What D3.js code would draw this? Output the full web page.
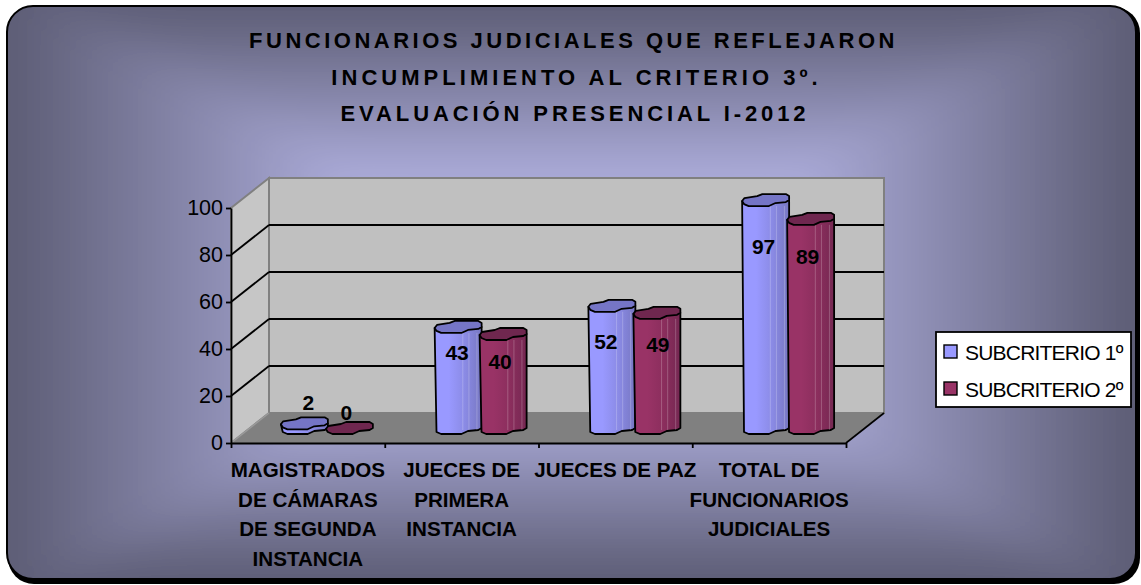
<!DOCTYPE html>
<html>
<head>
<meta charset="utf-8">
<script src="https://cdn.jsdelivr.net/npm/d3@7"></script>
<style>
html, body { margin: 0; padding: 0; background: #fff; }
svg { display: block; font-family: "Liberation Sans", Arial, sans-serif; }
</style>
</head>
<body>
<div id="chart"></div>
<script>
var titleLines = ["FUNCIONARIOS JUDICIALES QUE REFLEJARON", "INCUMPLIMIENTO AL CRITERIO 3º.", "EVALUACIÓN PRESENCIAL I-2012"];
var categories = [
    ["MAGISTRADOS", "DE CÁMARAS", "DE SEGUNDA", "INSTANCIA"],
    ["JUECES DE", "PRIMERA", "INSTANCIA"],
    ["JUECES DE PAZ"],
    ["TOTAL DE", "FUNCIONARIOS", "JUDICIALES"]
];
var seriesNames = ["SUBCRITERIO 1º", "SUBCRITERIO 2º"];
var subcriterio1 = [2, 43, 52, 97];
var subcriterio2 = [0, 40, 49, 89];
var yTicks = [0, 20, 40, 60, 80, 100];

// hand placed data labels in the original, so they get their own nudges (px from bar top / centre)
var labelNudgeY = [[-21, 25, 36, 46], [-16, 27, 32, 38]];
var labelNudgeX = [[4, -1, -6, -2], [-3, -3, 1, -3]];

// the title lines are spaced out a bit differently from each other
var titleSpacing = [3.5, 4.03, 3.9];
var titleX = [573.5, 576.5, 575];
var titleY = [48.3, 85, 121];

var width = 1141, height = 585;
var depthX = 38, depthY = -30;
var colors = [
    {left: "#9999ff", mid: "#8a8ae4", right: "#7777c2", top: "#7575c6"},
    {left: "#993366", mid: "#8b2e5d", right: "#752852", top: "#6f274f"}
];

var svg = d3.select("#chart").append("svg")
    .attr("width", width)
    .attr("height", height);
var defs = svg.append("defs");

// frame
var frame = {x: 7, y: 6, w: 1129, h: 573, r: 26};
svg.append("rect")
    .attr("x", frame.x + 1).attr("y", frame.y + 1)
    .attr("width", frame.w + 3).attr("height", frame.h + 4)
    .attr("rx", frame.r).attr("fill", "#000");

defs.append("clipPath").attr("id", "frameClip").append("rect")
    .attr("x", frame.x).attr("y", frame.y)
    .attr("width", frame.w).attr("height", frame.h)
    .attr("rx", frame.r);

defs.append("filter").attr("id", "soften")
    .attr("filterUnits", "userSpaceOnUse")
    .attr("x", -100).attr("y", -100)
    .attr("width", width + 200).attr("height", height + 200)
    .append("feGaussianBlur").attr("stdDeviation", 22);

// rectangular path gradient: one linear gradient per side, meeting on the diagonals, then blurred
var cx = 571, cy = 292;
var bgStops = [[0, "#b0b0de"], [0.4, "#acacda"], [1, "#5c5c74"]];
var pad = 80;
var xa = frame.x, xb = frame.x + frame.w, ya = frame.y, yb = frame.y + frame.h;
var corners = [[xa - pad, ya - pad], [xb + pad, ya - pad], [xb + pad, yb + pad], [xa - pad, yb + pad]];
var sideEnds = [[cx, ya], [xb, cy], [cx, yb], [xa, cy]];
var bgClip = svg.append("g").attr("clip-path", "url(#frameClip)");
var bg = bgClip.append("g").attr("filter", "url(#soften)");
corners.forEach(function (c, i) {
    var grad = defs.append("linearGradient")
        .attr("id", "bg" + i)
        .attr("gradientUnits", "userSpaceOnUse")
        .attr("x1", cx).attr("y1", cy)
        .attr("x2", sideEnds[i][0]).attr("y2", sideEnds[i][1]);
    bgStops.forEach(function (s) {
        grad.append("stop").attr("offset", s[0]).attr("stop-color", s[1]);
    });
    var next = corners[(i + 1) % 4];
    bg.append("polygon")
        .attr("points", [[cx, cy], c, next].join(" "))
        .attr("fill", "url(#bg" + i + ")")
        .attr("stroke", "url(#bg" + i + ")")
        .attr("stroke-width", 0.6);
});
svg.append("rect")
    .attr("x", frame.x).attr("y", frame.y)
    .attr("width", frame.w).attr("height", frame.h)
    .attr("rx", frame.r).attr("fill", "none")
    .attr("stroke", "#000").attr("stroke-width", 2);

// title
svg.append("g").selectAll("text").data(titleLines).enter().append("text")
    .attr("x", function (d, i) { return titleX[i]; })
    .attr("y", function (d, i) { return titleY[i]; })
    .attr("text-anchor", "middle")
    .attr("font-size", 22)
    .attr("font-weight", "bold")
    .attr("letter-spacing", function (d, i) { return titleSpacing[i]; })
    .attr("fill", "#000")
    .text(function (d) { return d; });

// scales
var y = d3.scaleLinear().domain([0, 100]).range([443, 208]);
var xEdge = d3.scaleLinear().domain([0, 4]).range([231, 846]);
var xCat = d3.scaleBand().domain(d3.range(4)).range([231, 846]);

var plot = svg.append("g");

// walls
var y0 = y(0), y100 = y(100), xL = xEdge(0), xR = xEdge(4);
plot.append("polygon")
    .attr("points", [[xL, y0], [xL, y100], [xL + depthX, y100 + depthY], [xL + depthX, y0 + depthY]].join(" "))
    .attr("fill", "#c6c6c6").attr("stroke", "#808080").attr("stroke-width", 2);
plot.append("rect")
    .attr("x", xL + depthX).attr("y", y100 + depthY)
    .attr("width", xR - xL).attr("height", y0 - y100)
    .attr("fill", "#c0c0c0").attr("stroke", "#808080").attr("stroke-width", 2);
plot.append("polygon")
    .attr("points", [[xL, y0], [xR, y0], [xR + depthX, y0 + depthY], [xL + depthX, y0 + depthY]].join(" "))
    .attr("fill", "#808080");
plot.append("line")
    .attr("x1", xL).attr("y1", y0).attr("x2", xL + depthX).attr("y2", y0 + depthY)
    .attr("stroke", "#9a9a9a").attr("stroke-width", 1.5);
plot.append("line")
    .attr("x1", xR).attr("y1", y0).attr("x2", xR + depthX).attr("y2", y0 + depthY)
    .attr("stroke", "#000").attr("stroke-width", 1.6);

// gridlines
var grid = plot.append("g").selectAll("g").data(yTicks.slice(1, 5)).enter().append("g");
grid.append("line")
    .attr("x1", xL).attr("x2", xL + depthX)
    .attr("y1", function (d) { return y(d); })
    .attr("y2", function (d) { return y(d) + depthY; })
    .attr("stroke", "#000").attr("stroke-width", 1.8);
grid.append("line")
    .attr("x1", xL + depthX).attr("x2", xR + depthX)
    .attr("y1", function (d) { return y(d) + depthY; })
    .attr("y2", function (d) { return y(d) + depthY; })
    .attr("stroke", "#000").attr("stroke-width", 1.8);

// axes
var axisLeft = d3.axisLeft(y).tickValues(yTicks).tickSize(5).tickSizeOuter(0).tickPadding(3);
var axisG = plot.append("g").attr("transform", "translate(" + xL + ",0)").call(axisLeft);
axisG.selectAll("text").attr("font-size", 21.5).attr("font-family", "Liberation Sans").attr("fill", "#000");
axisG.selectAll("line, path").attr("stroke", "#000").attr("stroke-width", 1.8);

var axisBottom = d3.axisBottom(xEdge).tickValues(d3.range(5)).tickSize(5).tickSizeOuter(0).tickFormat("");
var axisXG = plot.append("g").attr("transform", "translate(0," + y0 + ")").call(axisBottom);
axisXG.selectAll("line, path").attr("stroke", "#000").attr("stroke-width", 1.8);

// outline of the bar top, u across the bar width and v in px around the top centre
var topShape = [[0, 1], [0.05, -2], [0.32, -4], [0.43, -6], [0.93, -6], [1, -4], [1, 0],
    [0.93, 2], [0.71, 3], [0.57, 6], [0.14, 6], [0.04, 4]];
var lowerEdge = topShape.slice(6);

var seriesValues = [subcriterio1, subcriterio2];
var barWidth = 47;
var baseShift = depthY / 2;

function pointsAt(shape, left, cyPos) {
    return shape.map(function (p) { return (left + p[0] * barWidth) + "," + (cyPos + p[1]); });
}

seriesValues.forEach(function (vals, s) {
    var grad = defs.append("linearGradient").attr("id", "bar" + s);
    [[0, colors[s].left], [0.3, colors[s].left], [0.65, colors[s].mid], [1, colors[s].right]].forEach(function (st) {
        grad.append("stop").attr("offset", st[0]).attr("stop-color", st[1]);
    });
});

var barG = plot.append("g");
categories.forEach(function (c, i) {
    var center = xCat(i) + xCat.bandwidth() / 2 + depthX / 2;
    var xSer = d3.scaleBand().domain([0, 1]).range([center - 45, center + 45]);
    seriesValues.forEach(function (vals, s) {
        var v = vals[i];
        var left = xSer(s) + xSer.bandwidth() / 2 - barWidth / 2;
        var base = y(0) + baseShift;
        var top = y(v) + baseShift;
        if (v > 0) {
            var outline = [left + "," + (top + 1), (left + barWidth) + "," + top]
                .concat(pointsAt(lowerEdge, left, base));
            barG.append("polygon")
                .attr("points", outline.join(" "))
                .attr("fill", "url(#bar" + s + ")")
                .attr("stroke", "#000").attr("stroke-width", 1.8).attr("stroke-linejoin", "round");
            // the pale facet lines down the column
            if (top + 6 < base) {
                [0.6, 0.73, 0.9].forEach(function (u) {
                    barG.append("line")
                        .attr("x1", left + u * barWidth).attr("x2", left + u * barWidth)
                        .attr("y1", top + 6).attr("y2", base + 2)
                        .attr("stroke", "#fff").attr("stroke-opacity", 0.22).attr("stroke-width", 1);
                });
            }
        }
        barG.append("polygon")
            .attr("points", pointsAt(topShape, left, top).join(" "))
            .attr("fill", colors[s].top)
            .attr("stroke", "#000").attr("stroke-width", 1.8).attr("stroke-linejoin", "round");
    });
});

// data labels go on top of everything
categories.forEach(function (c, i) {
    var center = xCat(i) + xCat.bandwidth() / 2 + depthX / 2;
    var xSer = d3.scaleBand().domain([0, 1]).range([center - 45, center + 45]);
    seriesValues.forEach(function (vals, s) {
        plot.append("text")
            .attr("x", xSer(s) + xSer.bandwidth() / 2 + labelNudgeX[s][i])
            .attr("y", y(vals[i]) + baseShift + labelNudgeY[s][i])
            .attr("dy", "0.36em")
            .attr("text-anchor", "middle")
            .attr("font-size", 21)
            .attr("font-weight", "bold")
            .attr("fill", "#000")
            .text(vals[i]);
    });
});

// category labels
var catG = svg.append("g").selectAll("g").data(categories).enter().append("g")
    .attr("transform", function (d, i) {
        return "translate(" + (xCat(i) + xCat.bandwidth() / 2) + ",0)";
    });
catG.selectAll("text").data(function (d) { return d; }).enter().append("text")
    .attr("y", function (d, i) { return 477 + i * 29.5; })
    .attr("text-anchor", "middle")
    .attr("font-size", 20.6)
    .attr("font-weight", "bold")
    .attr("fill", "#000")
    .text(function (d) { return d; });

// legend
var legend = svg.append("g").attr("transform", "translate(936,332)");
legend.append("rect")
    .attr("width", 195).attr("height", 75)
    .attr("fill", "#fff").attr("stroke", "#000").attr("stroke-width", 1.8);
var item = legend.selectAll("g").data(seriesNames).enter().append("g")
    .attr("transform", function (d, i) { return "translate(8," + (13 + i * 37) + ")"; });
item.append("rect")
    .attr("width", 13).attr("height", 13)
    .attr("fill", function (d, i) { return i === 0 ? "#9999ff" : "#993366"; })
    .attr("stroke", "#000").attr("stroke-width", 1.4);
item.append("text")
    .attr("x", 21).attr("y", 15)
    .attr("font-size", 21)
    .attr("letter-spacing", -0.8)
    .attr("fill", "#000")
    .text(function (d) { return d; });
</script>
</body>
</html>
